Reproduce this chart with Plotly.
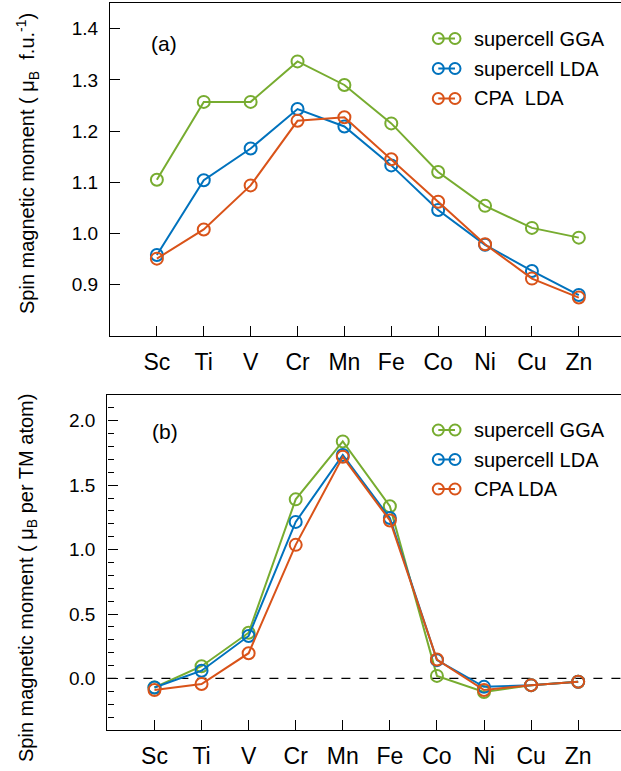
import plotly.graph_objects as go

# Transition-metal dopants along the x axis
elements = ["Sc", "Ti", "V", "Cr", "Mn", "Fe", "Co", "Ni", "Cu", "Zn"]

# (a) spin magnetic moment per formula unit
fu_gga = [1.105, 1.257, 1.257, 1.336, 1.290, 1.215, 1.120, 1.054, 1.011, 0.992]
fu_lda = [0.958, 1.104, 1.166, 1.243, 1.209, 1.133, 1.046, 0.978, 0.927, 0.880]
fu_cpa = [0.951, 1.008, 1.094, 1.220, 1.227, 1.145, 1.062, 0.979, 0.912, 0.875]

# (b) spin magnetic moment per TM atom
tm_gga = [-0.07, 0.095, 0.355, 1.39, 1.84, 1.337, 0.02, -0.105, -0.052, -0.026]
tm_lda = [-0.07, 0.06, 0.33, 1.215, 1.735, 1.245, 0.142, -0.065, -0.052, -0.026]
tm_cpa = [-0.09, -0.043, 0.196, 1.037, 1.72, 1.226, 0.147, -0.09, -0.052, -0.026]

a_yticks = [0.9, 1.0, 1.1, 1.2, 1.3, 1.4]
b_yticks = [0.0, 0.5, 1.0, 1.5, 2.0]

labels_a = ["supercell GGA", "supercell LDA", "CPA\u00a0 LDA"]
labels_b = ["supercell GGA", "supercell LDA", "CPA LDA"]
colors = ["#77AC30", "#0072BD", "#D95319"]

W, H = 621, 771
FONT = "Liberation Sans, Arial, Helvetica, sans-serif"


def px(x):
    return x / W


def py(y):
    return 1 - y / H


x_idx = list(range(len(elements)))

fig = go.Figure()

for series, col, name in zip([fu_gga, fu_lda, fu_cpa], colors, labels_a):
    fig.add_trace(go.Scatter(
        x=x_idx, y=series, mode="lines+markers", name=name,
        line=dict(color=col, width=2),
        marker=dict(symbol="circle-open", size=12, color=col, line=dict(width=2)),
        xaxis="x", yaxis="y", showlegend=False, cliponaxis=False))

for series, col, name in zip([tm_gga, tm_lda, tm_cpa], colors, labels_b):
    fig.add_trace(go.Scatter(
        x=x_idx, y=series, mode="lines+markers", name=name,
        line=dict(color=col, width=2),
        marker=dict(symbol="circle-open", size=12, color=col, line=dict(width=2)),
        xaxis="x2", yaxis="y2", showlegend=False, cliponaxis=False))

axis_common = dict(showline=True, linecolor="black", linewidth=1.3,
                   ticks="inside", tickcolor="black", tickwidth=1.3,
                   ticklen=10, showgrid=False, zeroline=False)

xfont = dict(family=FONT, size=23, color="black")
yfont = dict(family=FONT, size=19, color="black")

fig.update_layout(
    width=W, height=H,
    margin=dict(l=0, r=0, t=0, b=0),
    paper_bgcolor="white", plot_bgcolor="white",
    font=dict(family=FONT, color="black"),
    xaxis=dict(domain=[px(110), 1], range=[-1, 9.9], anchor="y",
               tickvals=x_idx, ticktext=elements, mirror=True,
               tickfont=xfont, ticklabelstandoff=5, **axis_common),
    yaxis=dict(domain=[py(336), py(3)], range=[0.8, 1.45], anchor="x",
               tickvals=a_yticks, tickformat=".1f", mirror=False,
               tickfont=yfont, ticklabelstandoff=7, **axis_common),
    xaxis2=dict(domain=[px(107.4), 1], range=[-1, 9.91], anchor="y2",
                tickvals=x_idx, ticktext=elements, mirror=True,
                tickfont=xfont, ticklabelstandoff=5, **axis_common),
    yaxis2=dict(domain=[py(730), py(395)], range=[-0.4, 2.2], anchor="x2",
                tickvals=b_yticks, tickformat=".1f", mirror=False,
                tickfont=yfont, ticklabelstandoff=7,
                minor=dict(dtick=0.1, tick0=0, ticks="inside", ticklen=6,
                           tickcolor="black", tickwidth=1.2),
                **axis_common),
)

shapes = []
annotations = []

# dashed zero reference in (b)
shapes.append(dict(type="line", xref="x2 domain", yref="y2", x0=0, x1=1,
                   y0=0, y1=0, line=dict(color="black", width=1.3, dash="dash"),
                   layer="below"))


def legend_block(rows_y, labels):
    for yc, lab, col in zip(rows_y, labels, colors):
        shapes.append(dict(type="line", xref="paper", yref="paper",
                           x0=px(438.3), x1=px(455), y0=py(yc), y1=py(yc),
                           line=dict(color=col, width=2)))
        for xc in (438.3, 455):
            shapes.append(dict(type="circle", xref="paper", yref="paper",
                               xsizemode="pixel", ysizemode="pixel",
                               xanchor=px(xc), yanchor=py(yc),
                               x0=-5.5, x1=5.5, y0=-5.5, y1=5.5,
                               line=dict(color=col, width=2)))
        annotations.append(dict(xref="paper", yref="paper", x=px(472), y=py(yc),
                                xanchor="left", yanchor="middle", showarrow=False,
                                text=lab, font=dict(family=FONT, size=20, color="black")))


legend_block([38.5, 68.5, 98.5], labels_a)
legend_block([430, 459.5, 489], labels_b)

annotations.append(dict(xref="paper", yref="paper", x=px(163.5), y=py(43),
                        xanchor="center", yanchor="middle", showarrow=False,
                        text="(a)", font=dict(family=FONT, size=21, color="black")))
annotations.append(dict(xref="paper", yref="paper", x=px(165), y=py(431.5),
                        xanchor="center", yanchor="middle", showarrow=False,
                        text="(b)", font=dict(family=FONT, size=21, color="black")))

# vertical axis titles
annotations.append(dict(xref="paper", yref="paper", x=px(27), y=py(164),
                        xanchor="center", yanchor="middle", showarrow=False,
                        textangle=-90,
                        text="Spin magnetic moment ( \u03bc<sub>B</sub>\u00a0 f.u.<sup>-1</sup>)",
                        font=dict(family=FONT, size=20, color="black")))
annotations.append(dict(xref="paper", yref="paper", x=px(27), y=py(578),
                        xanchor="center", yanchor="middle", showarrow=False,
                        textangle=-90,
                        text="Spin magnetic moment ( \u03bc<sub>B</sub> per TM atom)",
                        font=dict(family=FONT, size=20, color="black")))

fig.update_layout(shapes=shapes, annotations=annotations)

fig.write_html("out.html")
